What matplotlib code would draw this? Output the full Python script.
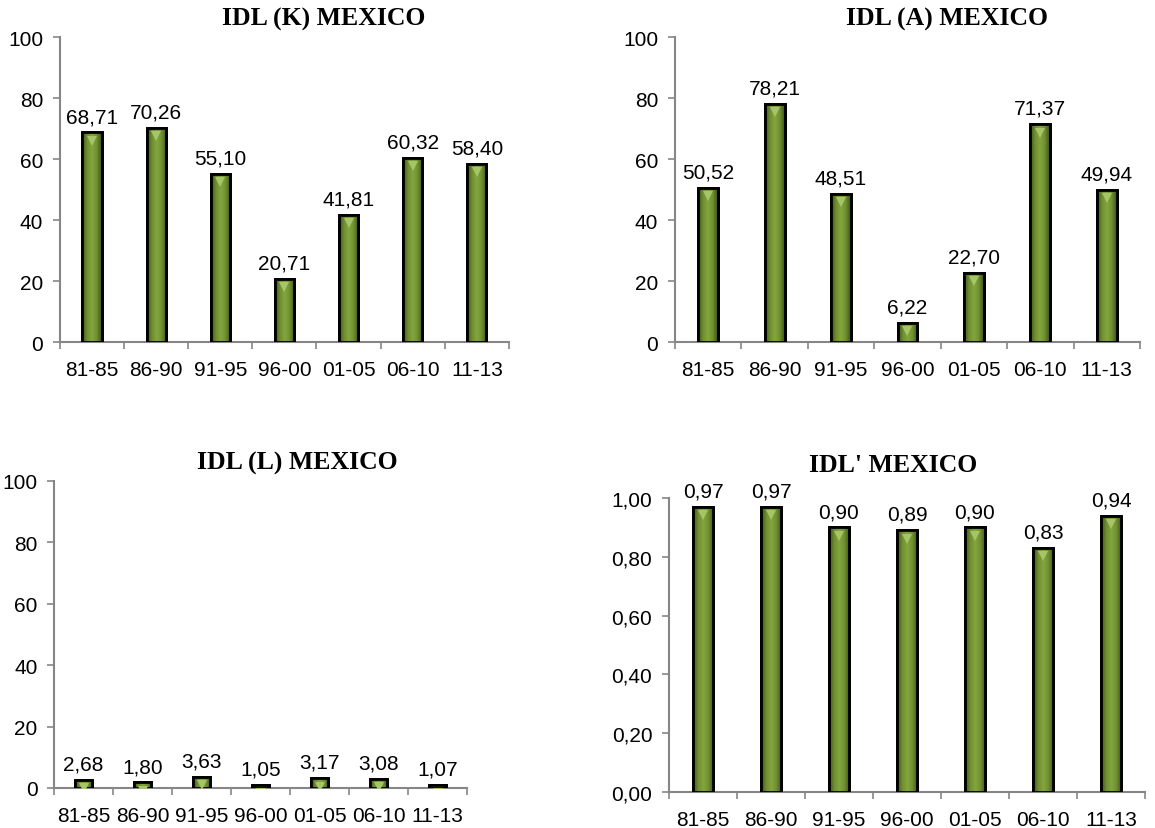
import numpy as np
import matplotlib
matplotlib.use('Agg')
import matplotlib.pyplot as plt
import matplotlib.transforms as mtransforms
from matplotlib.colors import LinearSegmentedColormap

# data
periods = ['81-85', '86-90', '91-95', '96-00', '01-05', '06-10', '11-13']
idl_k = [68.71, 70.26, 55.10, 20.71, 41.81, 60.32, 58.40]
idl_a = [50.52, 78.21, 48.51, 6.22, 22.70, 71.37, 49.94]
idl_l = [2.68, 1.80, 3.63, 1.05, 3.17, 3.08, 1.07]
idl_p = [0.97, 0.97, 0.90, 0.89, 0.90, 0.83, 0.94]

titles = ['IDL (K) MEXICO', 'IDL (A) MEXICO', 'IDL (L) MEXICO', "IDL' MEXICO"]

plt.rcParams['font.family'] = ['Liberation Sans', 'DejaVu Sans']

# bar shading: dark edges, lighter middle
green = LinearSegmentedColormap.from_list(
    'bar', ['#3d5219', '#6f8f30', '#84a63e', '#6f8f30', '#3d5219'])
grad = np.linspace(0, 1, 64).reshape(1, -1)

fig = plt.figure(figsize=(11.55, 8.29), dpi=100)

# [left, bottom, width, height] in figure fractions
boxes = [[0.0519, 0.5862, 0.3887, 0.3679],
         [0.5844, 0.5862, 0.4026, 0.3679],
         [0.0468, 0.0483, 0.3576, 0.3703],
         [0.5792, 0.0434, 0.4121, 0.3546]]
series = [idl_k, idl_a, idl_l, idl_p]
title_x = [324 / 1155, 947 / 1155, 297 / 1155, 893 / 1155]
title_y = [0.976, 0.976, 0.441, 0.439]
fs = 15


def draw_panel(ax, vals, frac):
    x = np.arange(len(periods))
    ymax = 1.0 if frac else 100
    bars = ax.bar(x, vals, width=0.30, color='#6f8f30', edgecolor='black',
                  linewidth=2.0, zorder=3)
    for b in bars:
        x0 = b.get_x()
        x1 = x0 + b.get_width()
        h = b.get_height()
        im = ax.imshow(grad, cmap=green, aspect='auto',
                       extent=[x0, x1, 0, h], zorder=3.5)
        im.set_clip_path(b)
        # outline again on top of the gradient
        ax.add_patch(plt.Rectangle((x0, 0), x1 - x0, h, fill=False,
                                   edgecolor='black', linewidth=2.0, zorder=4))
    # small bevel triangle at the top of each bar
    off = mtransforms.offset_copy(ax.transData, fig=fig, x=0, y=-6, units='points')
    ax.plot(x, vals, linestyle='none', marker='v', ms=7, color='#a6c468',
            markeredgewidth=0, transform=off, zorder=5)
    for xi, v in zip(x, vals):
        txt = ('%.2f' % v).replace('.', ',')
        ax.annotate(txt, (xi, v), xytext=(0, 7.5), textcoords='offset points',
                    ha='center', va='baseline', fontsize=fs)

    ax.set_xlim(-0.5, len(periods) - 0.5)
    ax.set_ylim(0, ymax)
    ax.set_xticks(x)
    ax.set_xticklabels(periods, fontsize=fs)
    ax.set_xticks(np.arange(len(periods) + 1) - 0.5, minor=True)
    ax.tick_params(axis='x', which='major', length=0, pad=13)
    ax.tick_params(axis='x', which='minor', length=5, color='#868686', width=1.2)
    if frac:
        yt = np.linspace(0, 1, 6)
        ax.set_yticks(yt)
        ax.set_yticklabels([('%.2f' % t).replace('.', ',') for t in yt])
    else:
        ax.set_yticks(np.arange(0, 101, 20))
    ax.tick_params(axis='y', length=5, color='#868686', width=1.2, pad=7,
                   labelsize=fs)
    for s in ['top', 'right']:
        ax.spines[s].set_visible(False)
    for s in ['left', 'bottom']:
        ax.spines[s].set_color('#868686')
        ax.spines[s].set_linewidth(1.5)
    ax.patch.set_visible(False)


for i in range(4):
    ax = fig.add_axes(boxes[i])
    draw_panel(ax, series[i], i == 3)
    fig.text(title_x[i], title_y[i], titles[i], family='Liberation Serif',
             fontweight='bold', fontsize=18.5, ha='center', va='center')

fig.savefig('out.png', dpi=100)
